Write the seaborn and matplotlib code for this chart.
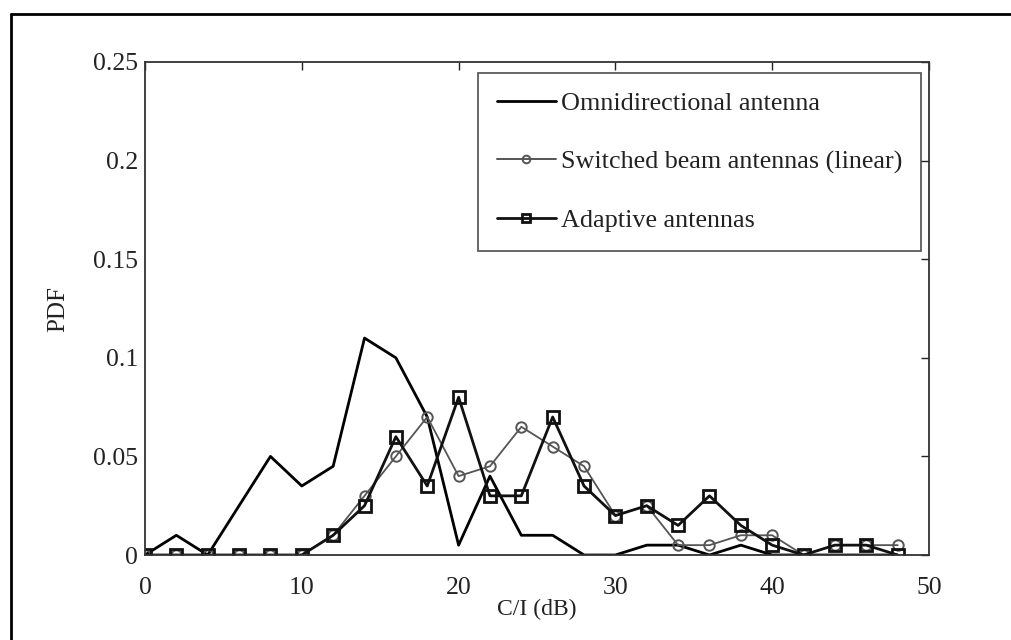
import numpy as np
import pandas as pd
import matplotlib
matplotlib.use("Agg")
import matplotlib.pyplot as plt
from matplotlib.lines import Line2D
import seaborn as sns

# C/I bins (dB)
ci_db = [0, 2, 4, 6, 8, 10, 12, 14, 16, 18, 20, 22, 24, 26, 28, 30, 32, 34, 36, 38, 40, 42, 44, 46, 48]

# PDF values per antenna type
omni = [0, 0.01, 0, 0.025, 0.05, 0.035, 0.045, 0.11, 0.10, 0.07, 0.005, 0.04, 0.01, 0.01, 0, 0,
        0.005, 0.005, 0, 0.005, 0, 0, 0, 0, 0]
switched = [0, 0, 0, 0, 0, 0, 0.01, 0.03, 0.05, 0.07, 0.04, 0.045, 0.065, 0.055, 0.045, 0.02,
            0.025, 0.005, 0.005, 0.01, 0.01, 0, 0.005, 0.005, 0.005]
adaptive = [0, 0, 0, 0, 0, 0, 0.01, 0.025, 0.06, 0.035, 0.08, 0.03, 0.03, 0.07, 0.035, 0.02,
            0.025, 0.015, 0.03, 0.015, 0.005, 0, 0.005, 0.005, 0]

labels = ["Omnidirectional antenna", "Switched beam antennas (linear)", "Adaptive antennas"]
x_ticks = [0, 10, 20, 30, 40, 50]
y_ticks = [0, 0.05, 0.1, 0.15, 0.2, 0.25]
y_tick_labels = ["0", "0.05", "0.1", "0.15", "0.2", "0.25"]

sns.set_style("white")
plt.rcParams["font.family"] = ["Liberation Serif", "DejaVu Serif"]

fig = plt.figure(figsize=(10.11, 6.4), dpi=100)
ax = fig.add_axes([145 / 1011, 1 - 555 / 640, (929 - 145) / 1011, (555 - 62) / 640])

df = pd.DataFrame({"ci": ci_db, "omni": omni, "switched": switched, "adaptive": adaptive})

sns.lineplot(data=df, x="ci", y="omni", ax=ax, color="black", linewidth=2.0)
sns.lineplot(data=df, x="ci", y="switched", ax=ax, color="#555555", linewidth=1.3,
             marker="o", markersize=7.5, markerfacecolor="none", markeredgecolor="#555555",
             markeredgewidth=1.4)
sns.lineplot(data=df, x="ci", y="adaptive", ax=ax, color="#111111", linewidth=2.0,
             marker="s", markersize=8.5, markerfacecolor="none", markeredgecolor="#111111",
             markeredgewidth=2.0)

ax.set_xlim(0, 50)
ax.set_ylim(0, 0.25)
ax.set_xticks(x_ticks)
ax.set_xticklabels([str(v) for v in x_ticks])
ax.set_yticks(y_ticks)
ax.set_yticklabels(y_tick_labels)
ax.tick_params(direction="in", length=6, width=1.0, top=True, right=True,
               labelsize=18.5, colors="#222222")
ax.tick_params(axis="x", pad=16)
ax.tick_params(axis="y", pad=5)
for side in ["left", "right", "top", "bottom"]:
    ax.spines[side].set_visible(True)
    ax.spines[side].set_color("#333333")
    ax.spines[side].set_linewidth(1.3)

ax.set_xlabel("C/I (dB)", fontsize=17, color="#222222", labelpad=0)
ax.set_ylabel("PDF", fontsize=18, color="#222222", labelpad=17)

handles = [
    Line2D([], [], color="black", linewidth=2.0),
    Line2D([], [], color="#555555", linewidth=1.4, marker="o", markersize=5.5,
           markerfacecolor="none", markeredgecolor="#555555", markeredgewidth=1.4),
    Line2D([], [], color="#111111", linewidth=2.0, marker="s", markersize=6,
           markerfacecolor="none", markeredgecolor="#111111", markeredgewidth=2.0),
]
leg = ax.legend(handles, labels, loc="upper right", bbox_to_anchor=(0.99, 0.978),
                fontsize=18.8, frameon=True, fancybox=False, handlelength=2.25,
                handletextpad=0.2, labelspacing=1.35, borderpad=0.72, borderaxespad=0.0)
leg.get_frame().set_edgecolor("#333333")
leg.get_frame().set_linewidth(1.3)
for t in leg.get_texts():
    t.set_color("#222222")

# Surrounding page frame (top and left edges)
fig.add_artist(Line2D([11 / 1011, 1.0], [1 - 14 / 640, 1 - 14 / 640],
                      transform=fig.transFigure, color="black", linewidth=2.0))
fig.add_artist(Line2D([11 / 1011, 11 / 1011], [0.0, 1 - 14 / 640],
                      transform=fig.transFigure, color="black", linewidth=2.0))

fig.savefig("out.png", dpi=100, facecolor="white")
